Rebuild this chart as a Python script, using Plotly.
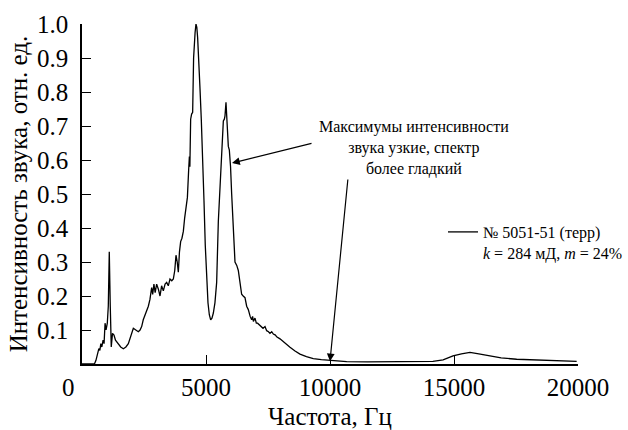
import plotly.graph_objects as go

freq = [0, 500, 560, 620, 680, 720, 760, 800, 850, 890, 930, 970, 1020, 1060, 1100, 1140, 1180,
        1230, 1290, 1350, 1465, 1560, 1667, 1770, 1868, 1960, 2070, 2170, 2271, 2340, 2406, 2470,
        2540, 2610, 2675, 2740, 2809, 2850, 2900, 2950, 3010, 3080, 3145, 3210, 3280, 3350, 3414,
        3480, 3548, 3620, 3683, 3740, 3790, 3840, 3884, 3930, 3978, 4030, 4086, 4140, 4193, 4250,
        4300, 4330, 4350, 4381, 4420, 4462, 4500, 4529, 4560, 4596, 4630, 4663, 4710, 4758, 4810,
        4865, 4919, 4970, 5027, 5080, 5134, 5188, 5240, 5296, 5360, 5430, 5497, 5550, 5605, 5650,
        5699, 5740, 5766, 5806, 5850, 5900, 5940, 5990, 6035, 6102, 6169, 6240, 6303, 6370, 6437,
        6500, 6572, 6640, 6706, 6780, 6841, 6880, 6910, 6975, 7030, 7080, 7177, 7230, 7300, 7380,
        7446, 7520, 7580, 7650, 7715, 7800, 7850, 7984, 8190, 8387, 8590, 8790, 9050, 9327, 9650,
        10000, 10672, 11500, 12500, 13500, 14150, 14560, 14960, 15300, 15645, 16000, 16317, 16900,
        17527, 18200, 18870, 19500, 19946]

intensity = [0, 0, 0.01, 0.03, 0.045, 0.04, 0.06, 0.05, 0.07, 0.06, 0.12, 0.10, 0.12, 0.17, 0.33,
             0.17, 0.05, 0.09, 0.085, 0.07, 0.06, 0.05, 0.045, 0.05, 0.06, 0.08, 0.105, 0.10, 0.095,
             0.10, 0.11, 0.13, 0.145, 0.155, 0.17, 0.19, 0.225, 0.205, 0.235, 0.21, 0.235, 0.22,
             0.20, 0.23, 0.215, 0.235, 0.24, 0.23, 0.25, 0.245, 0.25, 0.275, 0.32, 0.30, 0.27, 0.33,
             0.36, 0.37, 0.39, 0.43, 0.46, 0.49, 0.57, 0.61, 0.58, 0.72, 0.735, 0.74, 0.90, 0.97,
             0.975, 1.0, 0.99, 0.96, 0.90, 0.81, 0.72, 0.62, 0.48, 0.35, 0.25, 0.18, 0.145, 0.13,
             0.135, 0.15, 0.18, 0.24, 0.42, 0.50, 0.56, 0.63, 0.715, 0.72, 0.73, 0.77, 0.70, 0.64,
             0.63, 0.58, 0.50, 0.40, 0.30, 0.29, 0.275, 0.24, 0.205, 0.20, 0.195, 0.17, 0.16, 0.14,
             0.13, 0.14, 0.125, 0.135, 0.12, 0.12, 0.113, 0.11, 0.105, 0.11, 0.098, 0.095, 0.09,
             0.095, 0.088, 0.085, 0.08, 0.074, 0.06, 0.049, 0.038, 0.029, 0.022, 0.016, 0.013,
             0.011, 0.007, 0.006, 0.006, 0.007, 0.008, 0.012, 0.024, 0.03, 0.034, 0.03, 0.025,
             0.018, 0.014, 0.012, 0.01, 0.008, 0.008]

x_ticks = [5000, 10000, 15000, 20000]
y_ticks = [0.1, 0.2, 0.3, 0.4, 0.5, 0.6, 0.7, 0.8, 0.9, 1.0]
y_labels = [f"{v:.1f}" for v in y_ticks]

series_name = "№ 5051-51 (терр)<br><i>k</i> = 284 мД, <i>m</i> = 24%"
note_text = "Максимумы интенсивности<br>звука узкие, спектр<br>более гладкий"

FONT = "Liberation Serif"
BIG = 25

fig = go.Figure()
fig.add_trace(go.Scatter(x=freq, y=intensity, mode="lines", name=series_name,
                         line=dict(color="black", width=1.3), showlegend=True))

fig.update_layout(
    width=628, height=430,
    margin=dict(l=82, r=50, t=24, b=66, autoexpand=False),
    paper_bgcolor="white", plot_bgcolor="white",
    font=dict(family=FONT, color="black", size=BIG),
    showlegend=True,
    legend=dict(x=(443 - 82) / 496, y=(364 - 215) / 340, xanchor="left", yanchor="top",
                font=dict(family=FONT, size=16, color="black"),
                bgcolor="rgba(0,0,0,0)", borderwidth=0, itemwidth=30,
                tracegroupgap=0, valign="top"),
    xaxis=dict(range=[0, 20000], showline=True, linecolor="black", linewidth=1.5,
               ticks="inside", ticklen=9, tickwidth=1.2, tickcolor="black",
               tickvals=x_ticks, ticktext=[str(v) for v in x_ticks],
               showgrid=False, zeroline=False, automargin=False,
               tickfont=dict(family=FONT, size=BIG),
               title=dict(text="Частота, Гц", font=dict(family=FONT, size=BIG), standoff=20)),
    yaxis=dict(range=[0, 1.0], showline=True, linecolor="black", linewidth=1.5,
               ticks="inside", ticklen=9, tickwidth=1.2, tickcolor="black",
               tickvals=y_ticks, ticktext=y_labels, automargin=False,
               showgrid=False, zeroline=False, ticklabelstandoff=7,
               tickfont=dict(family=FONT, size=BIG),
               title=dict(text="Интенсивность звука, отн. ед.", font=dict(family=FONT, size=BIG),
                          standoff=2)),
)

# origin label "0"
fig.add_annotation(text="0", xref="paper", yref="paper", x=(68 - 82) / 496, y=(364 - 387) / 340,
                   xanchor="center", yanchor="middle", showarrow=False,
                   font=dict(family=FONT, size=BIG))

# note text
fig.add_annotation(text=note_text, xref="paper", yref="paper", x=(414 - 82) / 496,
                   y=(364 - 148) / 340, xanchor="center", yanchor="middle", showarrow=False,
                   align="center", font=dict(family=FONT, size=16))

# arrows
fig.add_annotation(text="", x=6048, y=0.591, xref="x", yref="y", ax=9315, ay=0.65,
                   axref="x", ayref="y", showarrow=True, arrowhead=2, arrowsize=1.3,
                   arrowwidth=1.2, arrowcolor="black")
fig.add_annotation(text="", x=10000, y=0.008, xref="x", yref="y", ax=10726, ay=0.547,
                   axref="x", ayref="y", showarrow=True, arrowhead=2, arrowsize=1.3,
                   arrowwidth=1.2, arrowcolor="black")

fig.write_html("out.html")
